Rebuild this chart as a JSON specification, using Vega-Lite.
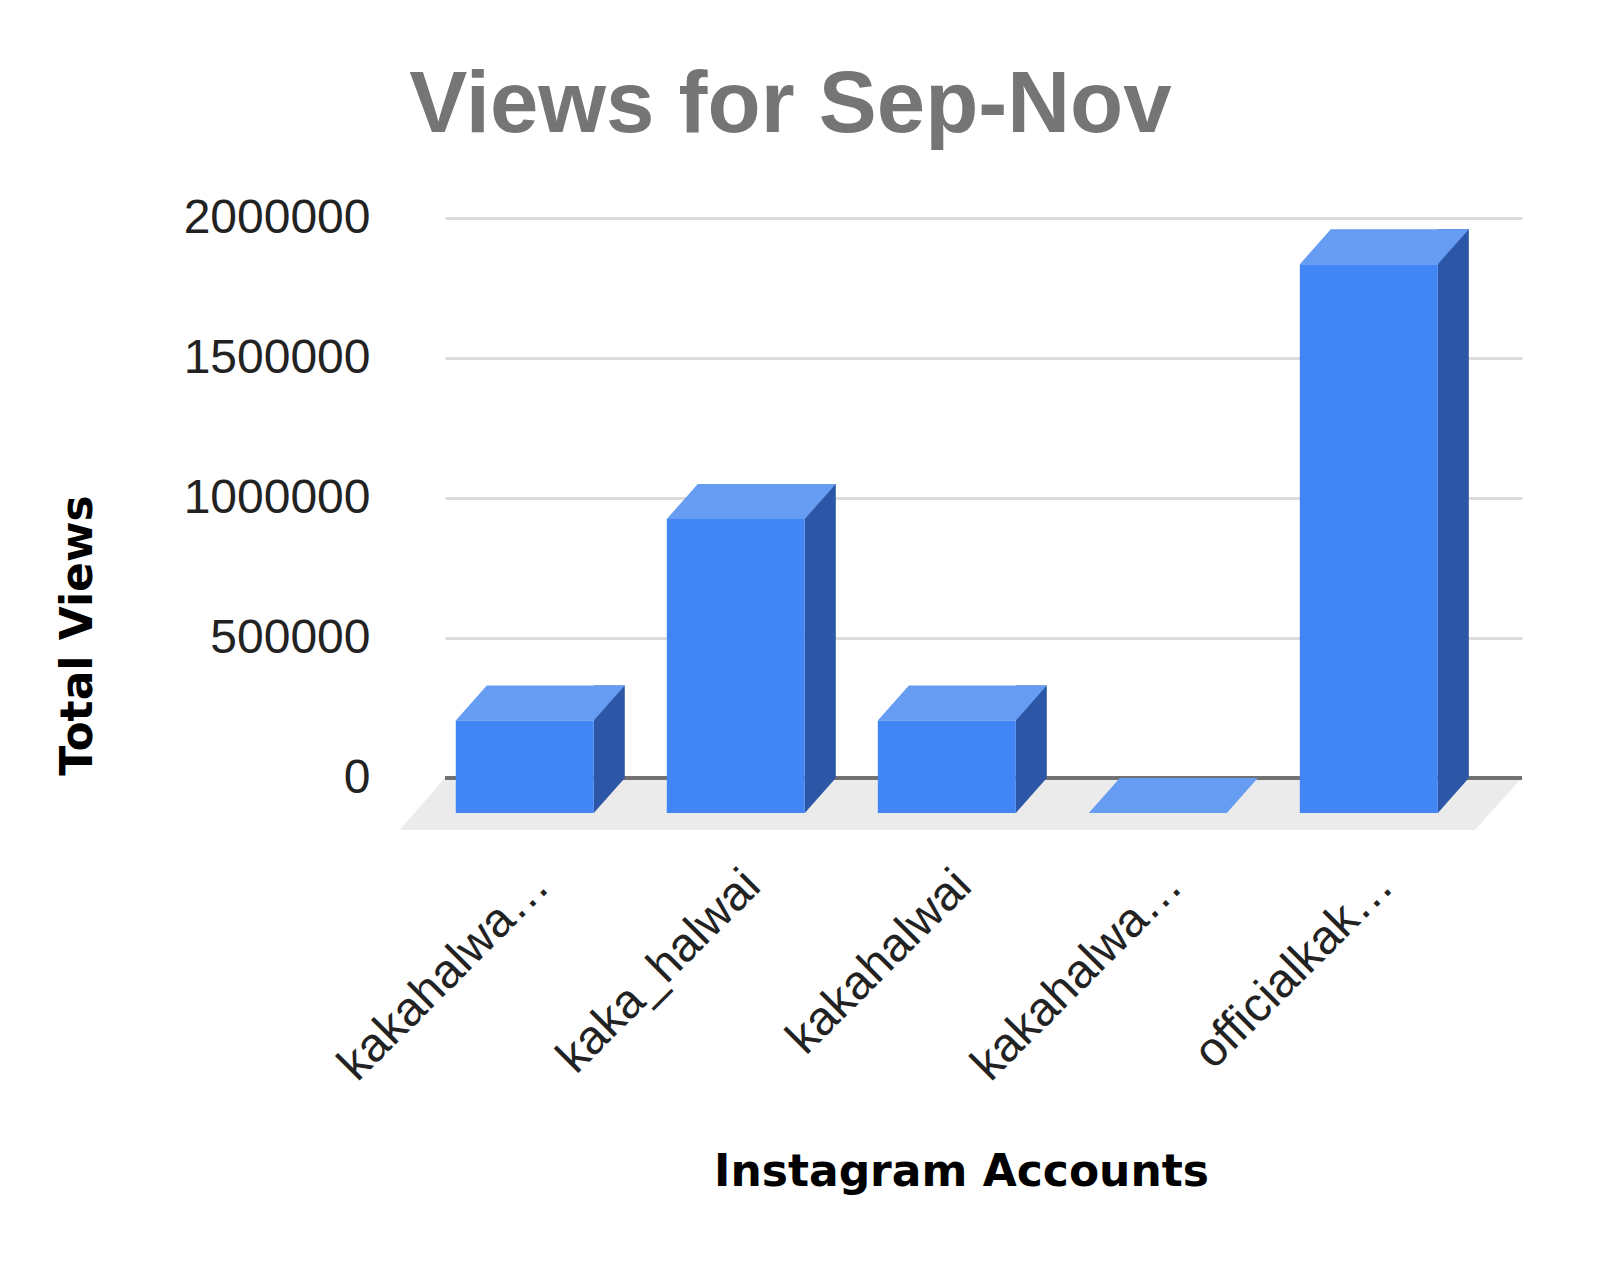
{
  "$schema": "https://vega.github.io/schema/vega-lite/v6.json",
  "width": 1077,
  "height": 560,
  "autosize": {"type": "none"},
  "padding": {"left": 445, "top": 218, "right": 78, "bottom": 496},
  "background": "#ffffff",
  "config": {
    "view": {"stroke": null},
    "font": "Liberation Sans"
  },
  "title": {
    "text": "Views for Sep-Nov",
    "font": "Liberation Sans",
    "fontSize": 87,
    "fontWeight": "bold",
    "color": "#757575",
    "anchor": "middle",
    "frame": "group",
    "dx": -193,
    "offset": 44
  },
  "data": {
    "values": [
      {"account": "kakahalwa…", "views": 330000, "floor": "yes"},
      {"account": "kaka_halwai", "views": 1050000, "floor": "no"},
      {"account": "kakahalwai", "views": 330000, "floor": "no"},
      {"account": "kakahalwa… ", "views": 0, "floor": "no"},
      {"account": "officialkak…", "views": 1960000, "floor": "no"}
    ]
  },
  "encoding": {
    "x": {
      "field": "account",
      "type": "nominal",
      "sort": null,
      "scale": {"paddingInner": 0.346, "paddingOuter": 0.225, "align": 0.44},
      "axis": {
        "title": "Instagram Accounts",
        "titleFont": "DejaVu Sans",
        "titleFontSize": 44,
        "titleFontWeight": "bold",
        "titleColor": "#000000",
        "titleX": 516,
        "titleY": 394,
        "titleAlign": "center",
        "titleBaseline": "middle",
        "labelAngle": -45,
        "labelAlign": "right",
        "labelBaseline": "middle",
        "labelFont": "Liberation Sans",
        "labelFontSize": 48,
        "labelColor": "#222222",
        "labelPadding": 100,
        "labelOffset": -14,
        "labelLimit": 0,
        "ticks": false,
        "domain": false,
        "grid": false
      }
    },
    "y": {
      "field": "views",
      "type": "quantitative",
      "scale": {"domain": [0, 2000000], "nice": false},
      "axis": {
        "title": "Total Views",
        "titleFont": "DejaVu Sans",
        "titleFontSize": 44,
        "titleFontWeight": "bold",
        "titleColor": "#000000",
        "titleAngle": -90,
        "titleX": -367,
        "titleY": 417,
        "titleAlign": "center",
        "titleBaseline": "middle",
        "values": [0, 500000, 1000000, 1500000, 2000000],
        "format": "d",
        "labelFont": "Liberation Sans",
        "labelFontSize": 48,
        "labelColor": "#222222",
        "labelPadding": 75,
        "labelLimit": 0,
        "ticks": false,
        "domain": false,
        "grid": true,
        "gridColor": "#dcdcdc",
        "gridWidth": 3
      }
    }
  },
  "layer": [
    {
      "transform": [{"filter": "datum.floor == 'yes'"}],
      "mark": {
        "type": "point",
        "shape": "M -111 0 L 966 0 L 919 52 L -156 52 Z",
        "size": 4,
        "filled": true,
        "opacity": 1,
        "color": "#ebebeb",
        "strokeWidth": 0
      },
      "encoding": {"y": {"datum": 0}}
    },
    {
      "mark": {"type": "rule", "color": "#707070", "strokeWidth": 3},
      "encoding": {"x": null, "y": {"datum": 0}}
    },
    {
      "mark": {"type": "bar", "width": 31, "xOffset": 53.5, "color": "#2b57a6"},
      "encoding": {"y2": {"datum": 0}}
    },
    {
      "transform": [{"filter": "datum.views > 0"}],
      "mark": {
        "type": "point",
        "shape": "M 38 0 L 69 0 L 38 35 Z",
        "size": 4,
        "filled": true,
        "opacity": 1,
        "color": "#2b57a6",
        "strokeWidth": 0
      },
      "encoding": {"y": {"datum": 0}}
    },
    {
      "mark": {
        "type": "point",
        "shape": "M -69 0 L 69 0 L 38 35 L -100 35 Z",
        "size": 4,
        "filled": true,
        "opacity": 1,
        "color": "#679cf3",
        "strokeWidth": 0
      }
    },
    {
      "mark": {"type": "bar", "width": 138, "xOffset": -31, "yOffset": 35, "y2Offset": 35, "color": "#4285f4"},
      "encoding": {"y2": {"datum": 0}}
    }
  ]
}
